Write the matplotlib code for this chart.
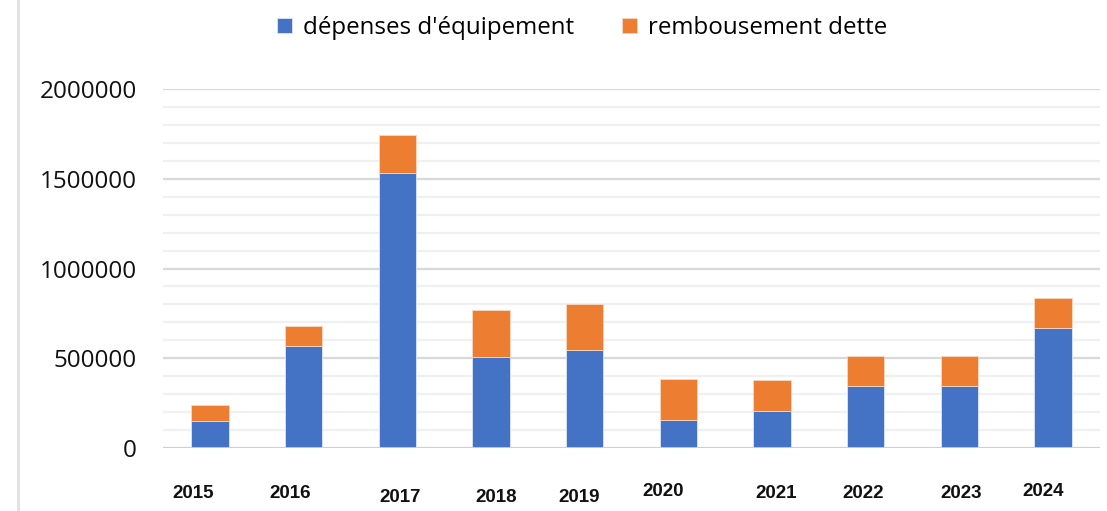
import matplotlib
matplotlib.use('Agg')
import matplotlib.pyplot as plt
import matplotlib.transforms as mtrans
from matplotlib.lines import Line2D
from matplotlib.ticker import FuncFormatter
import numpy as np

# data
years = ['2015', '2016', '2017', '2018', '2019', '2020', '2021', '2022', '2023', '2024']
depenses_equipement = [150000, 570000, 1534000, 507000, 544000, 154000, 208000, 345000, 347000, 670000]
remboursement_dette = [90000, 111000, 208000, 262000, 258000, 229000, 171000, 166000, 167000, 164000]

blue = '#4472C4'
orange = '#ED7D31'

fig = plt.figure(figsize=(11.07, 5.11), dpi=100)
ax = fig.add_axes([163 / 1107, 1 - 448 / 511, 937 / 1107, 359 / 511])

x = np.arange(len(years))
ax.bar(x, depenses_equipement, width=0.4, color=blue, edgecolor='#dfe6f5',
       linewidth=0.6, label="dépenses d'équipement", zorder=3)
ax.bar(x, remboursement_dette, width=0.4, bottom=depenses_equipement, color=orange,
       edgecolor='#f7d9c4', linewidth=0.6, label='rembousement dette', zorder=3)

ax.set_xlim(-0.5, len(years) - 0.5)
ax.set_ylim(0, 2000000)

# gridlines: major every 500000, minor every 100000
ax.set_yticks(np.arange(0, 2000001, 500000))
ax.set_yticks(np.arange(0, 2000001, 100000), minor=True)
ax.yaxis.set_major_formatter(FuncFormatter(lambda v, p: f'{int(v)}'))
ax.grid(axis='y', which='major', color='#d9d9d9', linewidth=1.6, zorder=0)
ax.grid(axis='y', which='minor', color='#f0f0f0', linewidth=1.6, zorder=0)
ax.axhline(0, color='#d0d0d0', linewidth=2, zorder=4)

for s in ax.spines.values():
    s.set_visible(False)
ax.tick_params(axis='both', which='both', length=0)
ax.tick_params(axis='y', pad=19)

for lab in ax.get_yticklabels():
    lab.set_fontfamily('Open Sans')
    lab.set_fontsize(17.5)
    lab.set_color('#111111')

ax.set_xticks(x)
ax.set_xticklabels(years, fontfamily='Liberation Sans', fontweight='bold',
                   fontsize=13.5, color='#111111')
ax.tick_params(axis='x', pad=27)

# small hand-placed shifts of the year labels (pixels)
label_dx = [-17, -13, 3, 5, -6, -15, 4, -3, 2, -10]
label_dy = [0, 0, -3, -3, -3, 2, 0, 0, 0, 2]
for lab, dx, dy in zip(ax.get_xticklabels(), label_dx, label_dy):
    lab.set_transform(lab.get_transform() +
                      mtrans.ScaledTranslation(dx / 100, dy / 100, fig.dpi_scale_trans))

leg = fig.legend(loc='center', bbox_to_anchor=(582 / 1107, 1 - 28 / 511), ncol=2,
                 frameon=False, handlelength=0.62, handleheight=0.62,
                 handletextpad=0.45, columnspacing=2.0,
                 prop={'family': 'Open Sans', 'size': 17.4})

# thin gray frame line at the left edge
fig.add_artist(Line2D([18 / 1107, 18 / 1107], [0, 1], color='#e0e0e0', linewidth=2))

fig.savefig('out.png', dpi=100)
